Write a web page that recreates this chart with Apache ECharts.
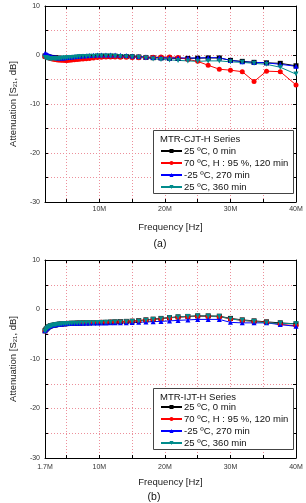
<!DOCTYPE html>
<html><head><meta charset="utf-8">
<script src="https://cdn.jsdelivr.net/npm/echarts@6/dist/echarts.min.js"></script>
<style>html,body{margin:0;padding:0;background:#fff}#c{width:306px;height:503px}</style>
</head><body><div id="c"></div>
<script>
const freqMHz = [1.7,1.85,2.0,2.1,2.25,2.4,2.55,2.7,2.9,3.1,3.3,3.5,3.7,3.95,4.2,4.5,4.8,5.1,5.45,5.8,6.2,6.6,7.0,7.5,8.0,8.5,9.1,9.7,10.3,11.0,11.7,12.4,13.2,14.1,15.0,16.0,17.1,18.2,19.4,20.7,22.0,23.5,25.0,26.6,28.3,30.0,31.8,33.6,35.5,37.6,40.0];
const seriesNames = ['25 ºC, 0 min','70 ºC, H : 95 %, 120 min','-25 ºC, 270 min','25 ºC, 360 min'];
const aBlack = [-0.2,-0.25,-0.3,-0.35,-0.4,-0.45,-0.5,-0.5,-0.55,-0.6,-0.6,-0.65,-0.65,-0.7,-0.7,-0.7,-0.7,-0.7,-0.65,-0.6,-0.55,-0.5,-0.45,-0.4,-0.35,-0.3,-0.3,-0.25,-0.25,-0.25,-0.25,-0.25,-0.3,-0.3,-0.35,-0.4,-0.5,-0.55,-0.6,-0.65,-0.7,-0.7,-0.65,-0.6,-0.6,-1.1,-1.3,-1.5,-1.6,-1.7,-2.2];
const aRed = [-0.3,-0.35,-0.4,-0.5,-0.55,-0.6,-0.7,-0.75,-0.8,-0.85,-0.9,-0.95,-1.0,-1.0,-1.05,-1.05,-1.1,-1.1,-1.05,-1.0,-0.95,-0.9,-0.85,-0.8,-0.75,-0.7,-0.6,-0.5,-0.45,-0.4,-0.4,-0.4,-0.45,-0.45,-0.5,-0.55,-0.5,-0.45,-0.4,-0.4,-0.5,-0.9,-1.3,-2.1,-2.9,-3.1,-3.4,-5.4,-3.3,-3.4,-6.1];
const aBlue = [0.3,0.2,0.1,0,-0.1,-0.2,-0.3,-0.35,-0.4,-0.45,-0.5,-0.55,-0.6,-0.6,-0.6,-0.6,-0.55,-0.5,-0.45,-0.4,-0.35,-0.3,-0.25,-0.2,-0.15,-0.1,-0.05,0,0,0,0,0,-0.05,-0.1,-0.2,-0.3,-0.4,-0.5,-0.55,-0.6,-0.6,-0.6,-0.6,-0.55,-0.55,-1.1,-1.4,-1.5,-1.6,-1.9,-2.3];
const aCyan = [-0.5,-0.55,-0.6,-0.65,-0.7,-0.7,-0.75,-0.75,-0.75,-0.75,-0.75,-0.7,-0.7,-0.7,-0.65,-0.6,-0.6,-0.55,-0.5,-0.5,-0.45,-0.4,-0.35,-0.3,-0.3,-0.25,-0.25,-0.2,-0.2,-0.2,-0.2,-0.25,-0.3,-0.35,-0.4,-0.5,-0.6,-0.8,-0.9,-1.0,-1.1,-1.2,-1.3,-1.2,-1.2,-1.4,-1.5,-1.7,-1.9,-2.5,-3.9];
const bBlack = [-4.3,-4.0,-3.8,-3.65,-3.5,-3.4,-3.3,-3.25,-3.2,-3.15,-3.1,-3.05,-3.0,-2.95,-2.95,-2.9,-2.85,-2.85,-2.8,-2.8,-2.8,-2.75,-2.75,-2.7,-2.7,-2.7,-2.65,-2.65,-2.6,-2.6,-2.55,-2.5,-2.45,-2.4,-2.35,-2.25,-2.1,-1.95,-1.8,-1.65,-1.5,-1.4,-1.3,-1.3,-1.35,-1.8,-2.1,-2.3,-2.5,-2.7,-2.9];
const bRed = [-4.35,-4.05,-3.8,-3.65,-3.5,-3.4,-3.3,-3.25,-3.2,-3.15,-3.1,-3.05,-3.0,-3.0,-2.95,-2.9,-2.9,-2.85,-2.8,-2.8,-2.8,-2.75,-2.75,-2.7,-2.7,-2.7,-2.65,-2.65,-2.6,-2.6,-2.55,-2.5,-2.45,-2.4,-2.35,-2.25,-2.1,-2.0,-1.85,-1.7,-1.55,-1.45,-1.35,-1.4,-1.45,-1.9,-2.2,-2.4,-2.6,-3.0,-3.3];
const bBlue = [-4.3,-4.0,-3.8,-3.65,-3.5,-3.4,-3.3,-3.25,-3.2,-3.15,-3.1,-3.05,-3.0,-3.0,-2.95,-2.9,-2.9,-2.85,-2.85,-2.8,-2.8,-2.8,-2.8,-2.8,-2.75,-2.75,-2.75,-2.75,-2.75,-2.75,-2.7,-2.7,-2.7,-2.7,-2.65,-2.6,-2.5,-2.45,-2.4,-2.3,-2.2,-2.1,-2.0,-2.0,-2.0,-2.6,-2.7,-2.7,-2.7,-3.05,-3.4];
const bCyan = [-4.4,-4.1,-3.85,-3.7,-3.55,-3.45,-3.35,-3.3,-3.2,-3.15,-3.1,-3.05,-3.0,-3.0,-2.95,-2.9,-2.9,-2.85,-2.85,-2.8,-2.8,-2.8,-2.75,-2.75,-2.7,-2.7,-2.7,-2.65,-2.65,-2.6,-2.6,-2.55,-2.5,-2.45,-2.4,-2.3,-2.15,-2.0,-1.85,-1.65,-1.5,-1.4,-1.3,-1.35,-1.4,-1.9,-2.2,-2.4,-2.7,-2.8,-2.9];
const xTickValues = [5,10,15,20,25,30,35,40];
const xLabelsA = [10,20,30,40];
const xLabelsB = [1.7,10,20,30,40];
const yLabelValues = [10,0,-10,-20,-30];
const legendTitleA = 'MTR-CJT-H Series';
const legendTitleB = 'MTR-IJT-H Series';
const panelA = '(a)', panelB = '(b)';

const FONT = 'Liberation Sans, Arial, sans-serif';
const GRIDC = '#ec8f9a';
const styles = [
  {color:'#000000', symbol:'rect', rotate:0},
  {color:'#ff0000', symbol:'circle', rotate:0},
  {color:'#0000ff', symbol:'triangle', rotate:0},
  {color:'#008b8b', symbol:'triangle', rotate:180}
];
const pairs = arr => freqMHz.map((f,i)=>[f, arr[i]]);

function xAxes(gi, labels, labelMargin, nameGap){
  return [{
    type:'value', gridIndex:gi, min:1.7, max:40,
    name:'Frequency [Hz]', nameLocation:'middle', nameGap:nameGap,
    nameTextStyle:{fontSize:9.5, color:'#222', fontFamily:FONT},
    axisLine:{onZero:false, lineStyle:{color:'#000', width:1}},
    axisTick:{inside:true, length:3, customValues:xTickValues, lineStyle:{color:'#000'}},
    axisLabel:{customValues:labels, fontSize:7, color:'#333', fontFamily:FONT, margin:labelMargin, formatter:v=>v+'M', showMinLabel:true, showMaxLabel:true},
    splitLine:{show:true, lineStyle:{color:GRIDC, type:[1,2], width:1}}
  },{
    type:'value', gridIndex:gi, min:1.7, max:40, position:'top',
    axisLine:{onZero:false, lineStyle:{color:'#000'}},
    axisTick:{inside:true, length:3, customValues:xTickValues, lineStyle:{color:'#000'}},
    axisLabel:{show:false}, splitLine:{show:false}
  }];
}
function yAxes(gi){
  return [{
    type:'value', gridIndex:gi, min:-30, max:10, interval:5,
    name:'Attenuation [S{sub|21}, dB]', nameLocation:'middle', nameGap:27, nameRotate:90,
    nameTextStyle:{fontSize:9.5, color:'#222', fontFamily:FONT, rich:{sub:{fontSize:6, verticalAlign:'bottom', padding:[4,0,0,0]}}},
    axisLine:{show:true, onZero:false, lineStyle:{color:'#000'}},
    axisTick:{show:true, inside:true, length:3, lineStyle:{color:'#000'}},
    axisLabel:{fontSize:7, color:'#333', fontFamily:FONT, margin:5, formatter:v=> yLabelValues.indexOf(v)>=0 ? String(v) : ''},
    splitLine:{show:true, lineStyle:{color:GRIDC, type:[1,2], width:1}}
  },{
    type:'value', gridIndex:gi, min:-30, max:10, interval:5, position:'right',
    axisLine:{show:true, onZero:false, lineStyle:{color:'#000'}},
    axisTick:{show:true, inside:true, length:3, lineStyle:{color:'#000'}},
    axisLabel:{show:false}, splitLine:{show:false}
  }];
}
function mkSeries(gi, arrs){
  return arrs.map((arr,k)=>({
    type:'line', name:seriesNames[k], xAxisIndex:gi*2, yAxisIndex:gi*2,
    data:pairs(arr), symbol:styles[k].symbol, symbolSize:5, symbolRotate:styles[k].rotate,
    showAllSymbol:true, animation:false,
    lineStyle:{color:styles[k].color, width:1}, itemStyle:{color:styles[k].color}
  }));
}
function legend(top){
  return {
    orient:'vertical', left:160, top:top, itemWidth:21, itemHeight:5, itemGap:0, z:20,
    data:seriesNames, selectedMode:false,
    textStyle:{fontSize:9.5, color:'#111', fontFamily:FONT, lineHeight:12, padding:[0,0,0,-3]},
    padding:0
  };
}
function legendBox(x,y,w,h,title){
  return [
    {type:'rect', shape:{x:x+0.5,y:y+0.5,width:w,height:h}, style:{fill:'#fff', stroke:'#444', lineWidth:1}, z:5},
    {type:'text', x:x+7, y:y+4, style:{text:title, fontSize:9.5, fill:'#111', fontFamily:FONT}, z:6}
  ];
}
const chart = echarts.init(document.getElementById('c'), null, {renderer:'canvas'});
chart.setOption({
  animation:false,
  backgroundColor:'#fff',
  grid:[{left:38, right:10, top:6, height:196}, {left:38, right:10, top:260, height:198}],
  xAxis:[...xAxes(0, xLabelsA, 4, 20), ...xAxes(1, xLabelsB, 6, 19)],
  yAxis:[...yAxes(0), ...yAxes(1)],
  legend:[legend(145), legend(401)],
  graphic:[
    ...legendBox(153,130,140,63,legendTitleA),
    ...legendBox(153,388,140,61,legendTitleB),
    {type:'text', x:160, y:244, style:{text:panelA, fontSize:10.5, fill:'#111', fontFamily:FONT, align:'center', verticalAlign:'middle'}},
    {type:'text', x:154, y:497, style:{text:panelB, fontSize:10.5, fill:'#111', fontFamily:FONT, align:'center', verticalAlign:'middle'}}
  ],
  series:[...mkSeries(0,[aBlack,aRed,aBlue,aCyan]), ...mkSeries(1,[bBlack,bRed,bBlue,bCyan])]
});
</script></body></html>
